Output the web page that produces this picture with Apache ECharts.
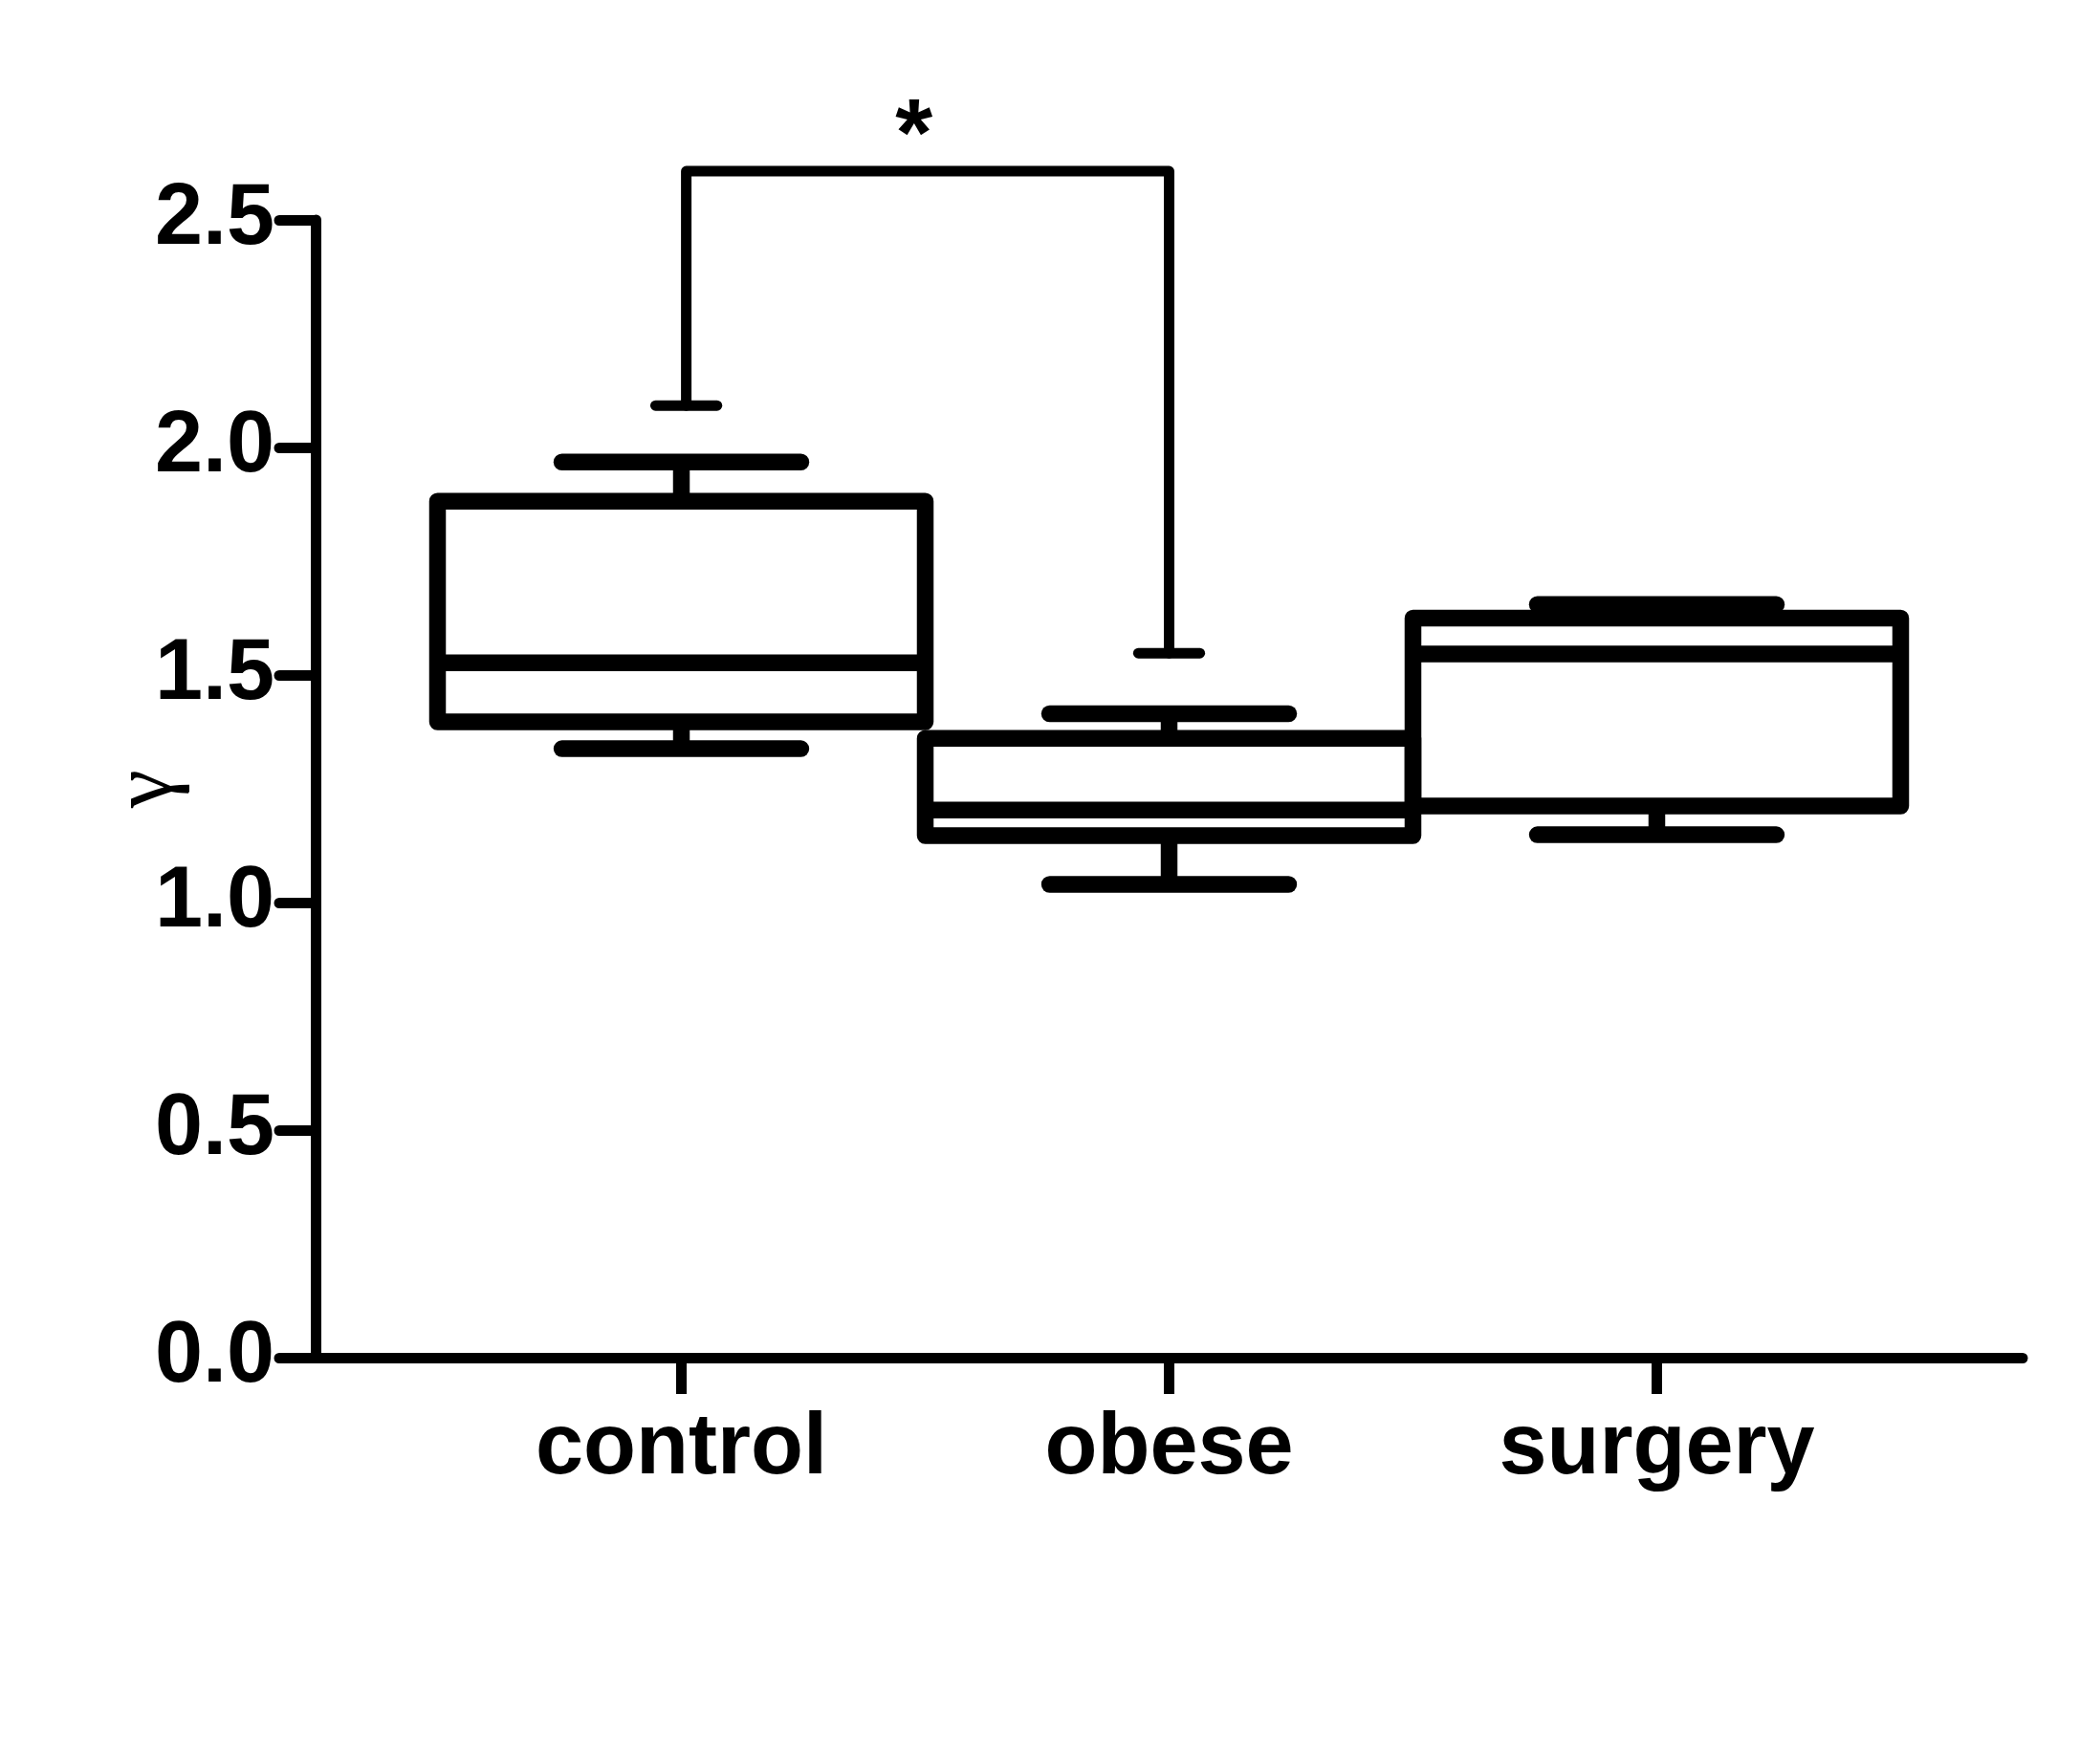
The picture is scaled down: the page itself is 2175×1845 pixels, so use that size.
<!DOCTYPE html>
<html>
<head>
<meta charset="utf-8">
<script src="https://cdn.jsdelivr.net/npm/echarts@6/dist/echarts.min.js"></script>
<style>
  html, body { margin: 0; padding: 0; background: #ffffff; }
  #chart { width: 2175px; height: 1845px; }
</style>
</head>
<body>
<div id="chart"></div>
<script>
// ---- data ----
const categories   = ['control', 'obese', 'surgery'];
const whiskerLow   = [1.338, 1.040, 1.149];
const quartile1    = [1.397, 1.147, 1.212];
const median       = [1.527, 1.203, 1.546];
const quartile3    = [1.882, 1.361, 1.625];
const whiskerHigh  = [1.968, 1.415, 1.655];
const yTicks       = [0, 0.5, 1.0, 1.5, 2.0, 2.5];

// significance bracket: control vs obese
const sigFrom      = 0;            // category index
const sigTo        = 1;            // category index
const sigLegEnds   = [2.092, 1.548];
const sigTop       = 2.607;
const sigLabel     = '*';
const sigLabelPos  = [1.227 - 0.75, 2.678]; // [category-space x, value]

// ---- layout / style constants ----
const CAT_OFFSET = 0.75;      // category centre offset on the value x axis
const BOX_HALF = 0.5;
const CAP_HALF = 0.245;
const SIG_CAP_HALF = 0.063;
const LEG_SHIFT = [0.01, 0];
const BOX_LW = 17.5;
const AXIS_LW = 11;
const FONT = "'Liberation Sans', Arial, Helvetica, sans-serif";

const boxData = categories.map((c, i) =>
  [i + CAT_OFFSET, whiskerLow[i], quartile1[i], median[i], quartile3[i], whiskerHigh[i]]);

const chart = echarts.init(document.getElementById('chart'), null, { renderer: 'canvas' });

function renderBox(params, api) {
  const x = api.value(0);
  const lo = api.value(1), q1 = api.value(2), md = api.value(3), q3 = api.value(4), hi = api.value(5);
  const tl = api.coord([x - BOX_HALF, q3]);
  const br = api.coord([x + BOX_HALF, q1]);
  const mL = api.coord([x - BOX_HALF, md]);
  const mR = api.coord([x + BOX_HALF, md]);
  const cTop = api.coord([x, q3]);
  const cHi = api.coord([x, hi]);
  const cBot = api.coord([x, q1]);
  const cLo = api.coord([x, lo]);
  const hiL = api.coord([x - CAP_HALF, hi]);
  const hiR = api.coord([x + CAP_HALF, hi]);
  const loL = api.coord([x - CAP_HALF, lo]);
  const loR = api.coord([x + CAP_HALF, lo]);
  const st = { stroke: '#000', lineWidth: BOX_LW, fill: null };
  return {
    type: 'group',
    children: [
      { type: 'line', shape: { x1: cTop[0], y1: cTop[1], x2: cHi[0], y2: cHi[1] }, style: Object.assign({}, st) },
      { type: 'line', shape: { x1: cBot[0], y1: cBot[1], x2: cLo[0], y2: cLo[1] }, style: Object.assign({}, st) },
      { type: 'line', shape: { x1: hiL[0], y1: hiL[1], x2: hiR[0], y2: hiR[1] }, style: Object.assign({ lineCap: 'round' }, st) },
      { type: 'line', shape: { x1: loL[0], y1: loL[1], x2: loR[0], y2: loR[1] }, style: Object.assign({ lineCap: 'round' }, st) },
      { type: 'rect', shape: { x: tl[0], y: tl[1], width: br[0] - tl[0], height: br[1] - tl[1] },
        style: Object.assign({ lineJoin: 'round' }, st) },
      { type: 'line', shape: { x1: mL[0], y1: mL[1], x2: mR[0], y2: mR[1] }, style: Object.assign({}, st) }
    ]
  };
}

function renderSig(params, api) {
  const xa = sigFrom + CAT_OFFSET + LEG_SHIFT[0];
  const xb = sigTo + CAT_OFFSET + LEG_SHIFT[1];
  const pA = api.coord([xa, sigLegEnds[0]]);
  const pAT = api.coord([xa, sigTop]);
  const pBT = api.coord([xb, sigTop]);
  const pB = api.coord([xb, sigLegEnds[1]]);
  const cA1 = api.coord([xa - SIG_CAP_HALF, sigLegEnds[0]]);
  const cA2 = api.coord([xa + SIG_CAP_HALF, sigLegEnds[0]]);
  const cB1 = api.coord([xb - SIG_CAP_HALF, sigLegEnds[1]]);
  const cB2 = api.coord([xb + SIG_CAP_HALF, sigLegEnds[1]]);
  const star = api.coord([sigLabelPos[0] + CAT_OFFSET, sigLabelPos[1]]);
  const st = { stroke: '#000', lineWidth: AXIS_LW, fill: null, lineCap: 'round', lineJoin: 'round' };
  return {
    type: 'group',
    children: [
      { type: 'polyline', shape: { points: [pA, pAT, pBT, pB] }, style: Object.assign({}, st) },
      { type: 'line', shape: { x1: cA1[0], y1: cA1[1], x2: cA2[0], y2: cA2[1] }, style: Object.assign({}, st) },
      { type: 'line', shape: { x1: cB1[0], y1: cB1[1], x2: cB2[0], y2: cB2[1] }, style: Object.assign({}, st) },
      { type: 'text', x: star[0], y: star[1],
        style: { text: sigLabel, fill: '#000', font: 'bold 100px ' + FONT, align: 'center', verticalAlign: 'middle' } }
    ]
  };
}

const option = {
  backgroundColor: '#ffffff',
  animation: false,
  grid: { left: 330, right: 60, top: 230, bottom: 425, containLabel: false, outerBoundsMode: 'none' },
  xAxis: {
    type: 'value', min: 0, max: 3.5,
    splitLine: { show: false },
    axisLine: { show: true, lineStyle: { color: '#000', width: AXIS_LW, cap: 'round' } },
    axisTick: { show: true, length: 38, customValues: categories.map((c, i) => i + CAT_OFFSET),
      lineStyle: { color: '#000', width: AXIS_LW } },
    axisLabel: { show: true, customValues: categories.map((c, i) => i + CAT_OFFSET),
      formatter: v => categories[Math.round(v - CAT_OFFSET)] || '',
      color: '#000', fontSize: 90, fontWeight: 'bold', fontFamily: FONT, margin: 51 }
  },
  yAxis: {
    type: 'value', min: 0, max: 2.5, interval: 0.5,
    name: 'γ', nameLocation: 'middle', nameGap: 130, nameRotate: 90, nameMoveOverlap: false,
    nameTextStyle: { color: '#000', fontSize: 90, fontFamily: "'Liberation Serif', 'DejaVu Serif', serif" },
    splitLine: { show: false },
    axisLine: { show: true, lineStyle: { color: '#000', width: AXIS_LW, cap: 'round', join: 'round' } },
    axisTick: { show: true, length: 38, customValues: yTicks, lineStyle: { color: '#000', width: AXIS_LW, cap: 'round' } },
    axisLabel: { show: true, customValues: yTicks, formatter: v => Number(v).toFixed(1),
      color: '#000', fontSize: 90, fontWeight: 'bold', fontFamily: FONT, margin: 43 }
  },
  series: [
    { type: 'custom', name: 'box', data: boxData, renderItem: renderBox, clip: false,
      encode: { x: 0, y: [1, 2, 3, 4, 5] }, silent: true },
    { type: 'custom', name: 'sig', data: [[sigFrom + CAT_OFFSET, sigTop]], renderItem: renderSig, clip: false,
      encode: { x: 0, y: 1 }, silent: true }
  ]
};
chart.setOption(option);
</script>
</body>
</html>
